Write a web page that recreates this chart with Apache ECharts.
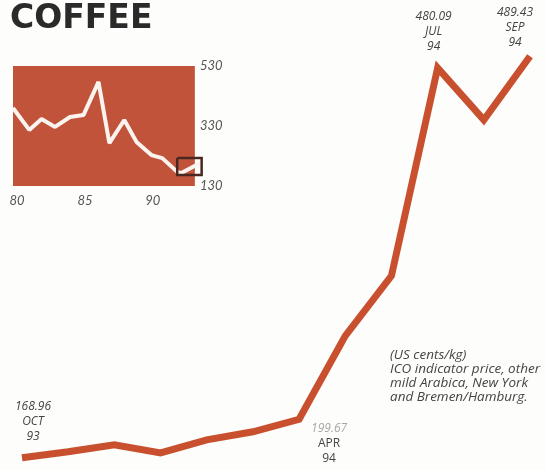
<!DOCTYPE html>
<html>
<head>
<meta charset="utf-8">
<script src="https://cdn.jsdelivr.net/npm/echarts@6/dist/echarts.min.js"></script>
<style>
  html, body { margin: 0; padding: 0; background: #fdfdfb; }
  #chart { width: 546px; height: 470px; }
</style>
</head>
<body>
<div id="chart"></div>
<script>
// monthly ICO price, Oct 93 - Sep 94
var months = ['OCT', 'NOV', 'DEC', 'JAN', 'FEB', 'MAR', 'APR', 'MAY', 'JUN', 'JUL', 'AUG', 'SEP'];
var years = ['93', '93', '93', '94', '94', '94', '94', '94', '94', '94', '94', '94'];
var prices = [168.96, 173.7, 179.3, 172.9, 183.3, 189.7, 199.67, 266.3, 314.2, 480.09, 438.6, 489.43];
var labelled = [0, 6, 9, 11];

// inset: long run price 1980-94
var histYears = [79.7, 80.9, 81.8, 82.8, 83.9, 84.9, 86.0, 86.8, 87.9, 88.8, 89.9, 90.7, 91.8, 92.1, 93.5];
var histPrices = [390, 317, 353, 327, 360, 367, 477, 273, 350, 277, 233, 223, 177, 173, 207];
var histXTicks = [80, 85, 90];
var histYTicks = [130, 330, 530];
var panelYears = [79.7, 93.1];
// box marking the zoomed period
var boxYears = [91.8, 93.6];
var boxPrices = [167, 223];

var noteLines = [
    '(US cents/kg)',
    'ICO indicator price, other',
    'mild Arabica, New York',
    'and Bremen/Hamburg.'
];

var labelPlace = {
    0: { position: 'top', offset: [11, -8] },
    6: { position: 'bottom', offset: [30, -4], faded: true },
    9: { position: 'top', offset: [-4, -8] },
    11: { position: 'top', offset: [-15, -1] }
};

function initChart() {
    var dom = document.getElementById('chart');
    var myChart = echarts.init(dom, null, { renderer: 'canvas' });

    var mainData = prices.map(function (v, i) {
        var item = { value: v };
        if (labelled.indexOf(i) >= 0) {
            var p = labelPlace[i];
            item.label = {
                show: true,
                position: p.position,
                offset: p.offset,
                formatter: '{n|' + v.toFixed(2) + '}\n{m|' + months[i] + '}\n{m|' + years[i] + '}',
                rich: {
                    n: { fontFamily: 'Open Sans', fontStyle: 'italic', fontSize: 12, lineHeight: 15,
                         color: p.faded ? '#a8a8a8' : '#444', align: 'center' },
                    m: { fontFamily: 'Open Sans', fontStyle: p.faded ? 'normal' : 'italic', fontSize: 12,
                         lineHeight: 15, color: '#444', align: 'center' }
                }
            };
        }
        return item;
    });

    var histData = histYears.map(function (y, i) {
        return [y, histPrices[i]];
    });

    var boxData = [
        [boxYears[0], boxPrices[1]], [boxYears[1], boxPrices[1]],
        [boxYears[1], boxPrices[0]], [boxYears[0], boxPrices[0]],
        [boxYears[0], boxPrices[1]]
    ];

    var option = {
        backgroundColor: '#fdfdfb',
        animation: false,
        title: {
            text: 'COFFEE',
            left: 5,
            top: -2,
            textStyle: {
                fontFamily: 'DejaVu Sans',
                fontWeight: 'bold',
                fontSize: 33,
                color: '#2a2a2a'
            }
        },
        graphic: [{
            type: 'text',
            left: 390,
            top: 348,
            style: {
                text: noteLines.join('\n'),
                fontFamily: 'Open Sans',
                fontStyle: 'italic',
                fontSize: 13.5,
                lineHeight: 14,
                fill: '#444'
            }
        }],
        grid: [
            { left: 22, right: 16, top: 43, bottom: 1 },
            { left: 13, top: 66, width: 190, height: 120 }
        ],
        xAxis: [
            {
                gridIndex: 0,
                type: 'category',
                boundaryGap: false,
                data: months.map(function (m, i) { return m + ' ' + years[i]; }),
                show: false
            },
            {
                gridIndex: 1,
                type: 'value',
                min: 79.7,
                max: 93.7,
                axisLine: { show: false },
                axisTick: { show: false },
                splitLine: { show: false },
                axisLabel: {
                    customValues: histXTicks,
                    margin: 8,
                    fontFamily: 'Lato',
                    fontStyle: 'italic',
                    fontSize: 13,
                    color: '#555'
                }
            }
        ],
        yAxis: [
            {
                gridIndex: 0,
                type: 'value',
                min: 160,
                max: 500,
                show: false
            },
            {
                gridIndex: 1,
                type: 'value',
                position: 'right',
                offset: -8,
                min: 130,
                max: 530,
                axisLine: { show: false },
                axisTick: { show: false },
                splitLine: { show: false },
                axisLabel: {
                    customValues: histYTicks,
                    margin: 5,
                    fontFamily: 'Lato',
                    fontStyle: 'italic',
                    fontSize: 13,
                    color: '#555'
                }
            }
        ],
        series: [
            {
                type: 'line',
                xAxisIndex: 0,
                yAxisIndex: 0,
                data: mainData,
                symbol: 'circle',
                symbolSize: 1,
                itemStyle: { color: 'rgba(0,0,0,0)' },
                lineStyle: { color: '#c8502f', width: 7, join: 'miter' },
                silent: true,
                emphasis: { disabled: true },
                z: 2
            },
            {
                // red panel behind the inset
                type: 'line',
                xAxisIndex: 1,
                yAxisIndex: 1,
                data: [],
                silent: true,
                z: 3,
                markArea: {
                    silent: true,
                    itemStyle: { color: '#c2533b' },
                    data: [[{ coord: [panelYears[0], 130] }, { coord: [panelYears[1], 530] }]]
                }
            },
            {
                type: 'line',
                xAxisIndex: 1,
                yAxisIndex: 1,
                data: histData,
                symbol: 'none',
                lineStyle: { color: '#fbf4ee', width: 4 },
                silent: true,
                emphasis: { disabled: true },
                z: 5
            },
            {
                type: 'line',
                xAxisIndex: 1,
                yAxisIndex: 1,
                data: boxData,
                symbol: 'none',
                lineStyle: { color: '#4a2820', width: 2.5, join: 'miter' },
                silent: true,
                emphasis: { disabled: true },
                z: 6
            }
        ]
    };
    myChart.setOption(option, true);
    window.onresize = myChart.resize;
}
initChart();
</script>
</body>
</html>
